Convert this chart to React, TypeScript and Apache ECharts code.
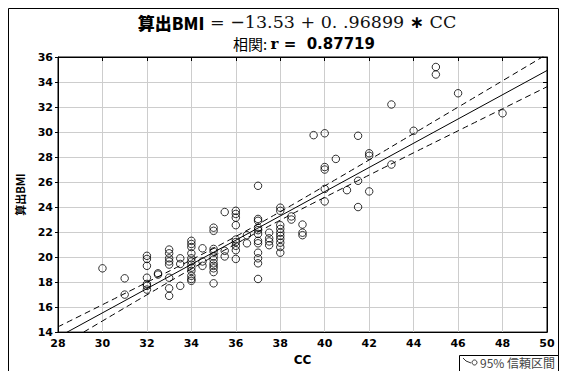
import React, { useEffect, useRef } from "react";
import * as echarts from "echarts";

const ccValues = [
  30,
  31, 31,
  32, 32, 32, 32, 32, 32, 32,
  32.5, 32.5,
  33, 33, 33, 33, 33, 33, 33, 33,
  33.5, 33.5, 33.5,
  34, 34, 34, 34, 34, 34, 34, 34, 34, 34, 34, 34,
  34.5, 34.5, 34.5,
  35, 35, 35, 35, 35, 35, 35, 35, 35, 35, 35,
  35.5, 35.5, 35.5,
  36, 36, 36, 36, 36, 36, 36, 36, 36,
  36.5, 36.5,
  37, 37, 37, 37, 37, 37, 37, 37, 37, 37, 37, 37,
  37.5, 37.5, 37.5, 37.5,
  38, 38, 38, 38, 38, 38, 38, 38, 38, 38,
  38.5, 38.5,
  39, 39, 39,
  39.5,
  40, 40, 40, 40, 40,
  40.5,
  41,
  41.5, 41.5, 41.5,
  42, 42, 42,
  43, 43,
  44,
  45, 45,
  46,
  48,
];
const bmiValues = [
  19.1,
  18.3, 17.0,
  20.1, 19.85, 19.3, 18.35, 17.85, 17.7, 17.4,
  18.7, 18.6,
  20.6, 20.3, 19.9, 19.65, 19.4, 18.35, 17.5, 16.9,
  19.9, 19.45, 17.7,
  21.3, 21.05, 20.8, 20.3, 19.9, 19.65, 19.4, 19.15, 18.9, 18.5, 18.25, 18.1,
  20.7, 19.65, 19.3,
  22.35, 22.1, 20.65, 20.45, 20.05, 19.8, 19.5, 19.3, 19.1, 18.8, 17.9,
  23.6, 20.5, 20.05,
  23.7, 23.45, 23.15, 22.55, 21.4, 21.2, 20.9, 20.55, 19.85,
  21.75, 21.1,
  25.7, 23.05, 22.9, 22.35, 22.15, 21.85, 21.3, 21.1, 20.35, 19.9, 19.5, 18.25,
  21.95, 21.5, 21.25, 20.95,
  23.95, 23.7, 22.55, 22.25, 21.95, 21.7, 21.45, 21.15, 20.8, 20.35,
  23.25, 23.0,
  22.6, 21.95, 21.75,
  29.75,
  29.9, 27.2, 27.0, 25.45, 24.45,
  27.85,
  25.35,
  29.7, 26.1, 24.0,
  28.3, 28.1, 25.25,
  32.2, 27.4,
  30.1,
  35.2, 34.6,
  33.1,
  31.5,
];

// Regression line end points
const fitX = [28, 50];
const fitY = [13.6, 34.92];

// 95% confidence band
const bandX = [28, 30, 32, 34, 36, 38, 40, 42, 44, 46, 48, 50];
const bandUpper = [14.42, 16.19, 17.98, 19.78, 21.65, 23.63, 25.69, 27.77, 29.88, 31.99, 34.1, 36.22];
const bandLower = [12.78, 14.89, 16.98, 19.05, 21.05, 22.95, 24.78, 26.56, 28.34, 30.1, 31.86, 33.62];

const xTicks = { min: 28, max: 50, interval: 2 };
const yTicks = { min: 14, max: 36, interval: 2 };

const titleText = "{a|算出BMI}{b| = −13.53 + 0. .96899 }{c|∗}{b| CC}";
const subtitleText = "{d|相関: }{e|r =  }{f|0.87719}";
const legendText = "95% 信頼区間";

export default function App() {
  const ref = useRef<HTMLDivElement>(null);
  useEffect(() => {
    if (!ref.current) return;
    const chart = echarts.init(ref.current, null, { renderer: "svg" });
    const tickFont = {
      color: "#000",
      fontFamily: "DejaVu Sans",
      fontWeight: "bold" as const,
      fontSize: 11,
    };
    chart.setOption({
      animation: false,
      backgroundColor: "#fff",
      title: [
        {
          text: titleText,
          left: 292,
          textAlign: "center",
          top: 8,
          textStyle: {
            fontWeight: "normal",
            rich: {
              a: { fontFamily: "Noto Sans CJK JP", fontWeight: 900, fontSize: 17, color: "#000" },
              b: { fontFamily: "DejaVu Serif", fontWeight: "normal", fontSize: 17.5, color: "#111" },
              c: { fontFamily: "DejaVu Sans", fontWeight: "bold", fontSize: 17, color: "#000" },
            },
          },
        },
        {
          text: subtitleText,
          left: 299,
          textAlign: "center",
          top: 31,
          textStyle: {
            fontWeight: "normal",
            rich: {
              d: { fontFamily: "Noto Sans CJK JP", fontWeight: "normal", fontSize: 15, color: "#000" },
              e: { fontFamily: "DejaVu Serif", fontWeight: "bold", fontSize: 15, color: "#000" },
              f: { fontFamily: "DejaVu Sans", fontWeight: "bold", fontSize: 15, color: "#000" },
            },
          },
        },
      ],
      grid: {
        left: 58,
        right: 20,
        top: 57,
        bottom: 34,
        show: true,
        borderColor: "#000",
        borderWidth: 1,
        backgroundColor: "transparent",
      },
      xAxis: [
        {
          type: "value",
          ...xTicks,
          name: "CC",
          nameLocation: "middle",
          nameGap: 20,
          nameTextStyle: { ...tickFont, fontSize: 12 },
          axisLine: { show: true, onZero: false, lineStyle: { color: "#000" } },
          axisTick: { show: false },
          axisLabel: { ...tickFont, margin: 6 },
          splitLine: { show: true, lineStyle: { color: "#cdcdcd", width: 1 } },
        },
        {
          type: "value",
          ...xTicks,
          position: "top",
          axisLine: { show: true, lineStyle: { color: "#000" } },
          axisTick: { show: true, inside: true, length: 4, lineStyle: { color: "#000" } },
          axisLabel: { show: false },
          splitLine: { show: false },
        },
      ],
      yAxis: [
        {
          type: "value",
          ...yTicks,
          name: "算出BMI",
          nameLocation: "middle",
          nameGap: 33,
          nameTextStyle: { fontFamily: "Noto Sans CJK JP", fontWeight: "bold", fontSize: 11, color: "#000" },
          axisLine: { show: true, onZero: false, lineStyle: { color: "#000" } },
          axisTick: { show: true, length: 3, lineStyle: { color: "#000" } },
          axisLabel: { ...tickFont, margin: 5 },
          splitLine: { show: true, lineStyle: { color: "#cdcdcd", width: 1 } },
        },
        {
          type: "value",
          ...yTicks,
          position: "right",
          axisLine: { show: true, lineStyle: { color: "#000" } },
          axisTick: { show: true, inside: true, length: 4, lineStyle: { color: "#000" } },
          axisLabel: { show: false },
          splitLine: { show: false },
        },
      ],
      series: [
        {
          type: "line",
          data: bandX.map((x, i) => [x, bandUpper[i]]),
          smooth: true,
          symbol: "none",
          clip: true,
          lineStyle: { color: "#000", width: 1, type: [6, 4] },
          z: 3,
        },
        {
          type: "line",
          data: bandX.map((x, i) => [x, bandLower[i]]),
          smooth: true,
          symbol: "none",
          clip: true,
          lineStyle: { color: "#000", width: 1, type: [6, 4] },
          z: 3,
        },
        {
          type: "line",
          data: fitX.map((x, i) => [x, fitY[i]]),
          symbol: "none",
          clip: true,
          lineStyle: { color: "#000", width: 1 },
          z: 3,
        },
        {
          type: "scatter",
          data: ccValues.map((x, i) => [x, bmiValues[i]]),
          symbol: "circle",
          symbolSize: 7.5,
          itemStyle: { color: "rgba(0,0,0,0)", borderColor: "#000", borderWidth: 1 },
          z: 4,
        },
      ],
      graphic: [
        {
          type: "rect",
          shape: { x: 8.5, y: 8.5, width: 550, height: 420 },
          style: { fill: "none", stroke: "#000", lineWidth: 1 },
          silent: true,
        },
        {
          type: "rect",
          shape: { x: 459.5, y: 355.5, width: 99, height: 30 },
          style: { fill: "#fff", stroke: "#000", lineWidth: 1 },
          silent: true,
        },
        {
          type: "polyline",
          shape: { points: [[463, 358], [466, 361], [471, 363]] },
          style: { stroke: "#333", lineWidth: 1, fill: "none" },
        },
        {
          type: "circle",
          shape: { cx: 474.5, cy: 362.5, r: 2.5 },
          style: { stroke: "#333", lineWidth: 1, fill: "none" },
        },
        {
          type: "text",
          x: 480,
          y: 362.5,
          style: {
            text: legendText,
            fontFamily: "Noto Sans CJK JP",
            fontSize: 12,
            fill: "#444",
            verticalAlign: "middle",
          },
        },
      ],
    });
    return () => chart.dispose();
  }, []);
  return <div ref={ref} style={{ width: 567, height: 371, position: "absolute", left: 0, top: 0 }} />;
}
